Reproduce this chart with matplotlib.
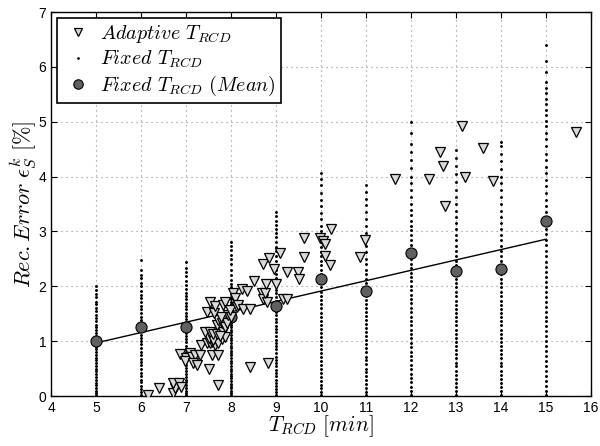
import numpy as np
import matplotlib
matplotlib.use('Agg')
import matplotlib.pyplot as plt

plt.rcParams['mathtext.fontset'] = 'cm'
plt.rcParams['font.family'] = ['Liberation Sans', 'DejaVu Sans']

# --- Adaptive T_RCD (x, y) ---
adaptive_x = [
    6.16, 6.40, 6.72, 6.76, 6.72, 6.84, 6.88, 7.70, 7.50, 8.43, 8.83,
    6.87, 7.01, 6.98, 7.09, 7.13, 7.20, 7.16, 7.24, 7.31, 7.58, 7.70,
    7.33, 7.46, 7.53, 7.57, 7.64, 7.68, 7.72, 7.79, 7.50, 7.61,
    7.42, 7.53, 7.61, 7.68, 7.83, 7.87, 7.76,
    7.68, 7.72, 7.79, 7.87, 7.90, 7.94, 8.00, 7.78,
    7.46, 7.62, 7.53, 7.64, 7.83, 7.87, 7.98, 8.13, 8.05, 8.09, 8.16,
    8.24, 8.36, 8.27, 8.42, 8.50, 8.68, 8.72, 8.79, 8.76,
    8.78, 9.01, 9.16, 9.24,
    8.72, 8.84, 9.08, 8.96, 9.25, 9.48, 9.50, 9.63, 9.62,
    9.97, 10.05, 10.08, 10.09, 10.19, 10.22, 10.87, 10.98,
    11.64, 12.41, 12.64, 12.72, 12.76, 13.13, 13.20, 13.59, 13.83, 15.66,
]
adaptive_y = [
    0.02, 0.14, 0.05, 0.14, 0.23, 0.23, 0.17, 0.21, 0.49, 0.53, 0.61,
    0.77, 0.69, 0.63, 0.79, 0.72, 0.75, 0.60, 0.57, 0.74, 0.75, 0.75,
    0.93, 0.96, 0.96, 0.99, 0.93, 1.00, 0.96, 1.04, 1.06, 1.03,
    1.17, 1.17, 1.14, 1.14, 1.17, 1.08, 1.09,
    1.29, 1.39, 1.33, 1.26, 1.34, 1.48, 1.44, 1.44,
    1.53, 1.52, 1.72, 1.64, 1.66, 1.72, 1.57, 1.63, 1.87, 1.78, 1.66,
    1.96, 1.92, 1.58, 1.58, 2.10, 1.87, 1.76, 1.72, 1.88,
    2.04, 2.04, 1.76, 1.76,
    2.40, 2.52, 2.60, 2.32, 2.27, 2.27, 2.14, 2.54, 2.89,
    2.89, 2.83, 2.77, 2.56, 2.39, 3.05, 2.53, 2.84,
    3.95, 3.95, 4.45, 4.20, 3.46, 4.92, 4.00, 4.53, 3.92, 4.82,
]

# --- Fixed T_RCD samples, one list per T_RCD value ---
fixed_t = [5, 6, 7, 8, 9, 10, 11, 12, 13, 14, 15]
fixed_vals = [
    [0.02, 0.06, 0.10, 0.15, 0.20, 0.24, 0.30, 0.35, 0.41, 0.46, 0.50, 0.55, 0.60,
     0.66, 0.70, 0.74, 0.80, 0.85, 0.90, 0.95, 1.00, 1.04, 1.10, 1.15, 1.20, 1.26,
     1.30, 1.36, 1.42, 1.48, 1.55, 1.60, 1.67, 1.72, 1.80, 1.86, 1.93, 2.00],
    [0.02, 0.07, 0.12, 0.18, 0.25, 0.30, 0.37, 0.42, 0.50, 0.56, 0.62, 0.68, 0.75,
     0.80, 0.88, 0.94, 1.00, 1.06, 1.12, 1.18, 1.25, 1.32, 1.38, 1.45, 1.52, 1.58,
     1.65, 1.72, 1.78, 1.85, 1.92, 2.00, 2.06, 2.15, 2.20, 2.30, 2.48],
    [0.02, 0.05, 0.10, 0.14, 0.20, 0.25, 0.30, 0.34, 0.40, 0.46, 0.52, 0.56, 0.62,
     0.68, 0.74, 0.80, 0.86, 0.92, 0.98, 1.04, 1.10, 1.15, 1.22, 1.28, 1.34, 1.40,
     1.46, 1.52, 1.58, 1.64, 1.70, 1.76, 1.82, 1.88, 1.95, 2.02, 2.10, 2.18, 2.26,
     2.34, 2.45],
    [0.02, 0.06, 0.10, 0.14, 0.18, 0.22, 0.27, 0.32, 0.36, 0.41, 0.46, 0.50, 0.55,
     0.60, 0.64, 0.69, 0.74, 0.78, 0.83, 0.88, 0.92, 0.97, 1.02, 1.06, 1.11, 1.16,
     1.20, 1.25, 1.30, 1.34, 1.39, 1.44, 1.48, 1.53, 1.58, 1.62, 1.67, 1.72, 1.76,
     1.81, 1.86, 1.92, 1.98, 2.05, 2.12, 2.20, 2.30, 2.40, 2.50, 2.58, 2.66, 2.74,
     2.81],
    [0.02, 0.07, 0.12, 0.18, 0.24, 0.30, 0.36, 0.42, 0.48, 0.54, 0.60, 0.66, 0.72,
     0.78, 0.85, 0.91, 0.97, 1.03, 1.10, 1.16, 1.22, 1.28, 1.35, 1.41, 1.48, 1.54,
     1.61, 1.67, 1.74, 1.80, 1.87, 1.94, 2.00, 2.08, 2.15, 2.22, 2.30, 2.38, 2.46,
     2.55, 2.64, 2.72, 2.80, 2.90, 2.98, 3.05, 3.12, 3.20, 3.28, 3.36],
    [0.02, 0.08, 0.14, 0.21, 0.28, 0.35, 0.42, 0.50, 0.57, 0.64, 0.71, 0.78, 0.86,
     0.93, 1.00, 1.08, 1.15, 1.22, 1.30, 1.37, 1.44, 1.52, 1.60, 1.67, 1.75, 1.82,
     1.90, 1.98, 2.06, 2.14, 2.22, 2.30, 2.38, 2.46, 2.55, 2.63, 2.72, 2.80, 2.90,
     3.00, 3.10, 3.22, 3.34, 3.46, 3.58, 3.70, 3.84, 3.95, 4.06],
    [0.02, 0.08, 0.15, 0.22, 0.29, 0.36, 0.43, 0.50, 0.58, 0.65, 0.72, 0.80, 0.87,
     0.94, 1.02, 1.09, 1.16, 1.24, 1.31, 1.38, 1.46, 1.53, 1.60, 1.68, 1.75, 1.82,
     1.90, 1.98, 2.06, 2.14, 2.22, 2.30, 2.40, 2.50, 2.62, 2.74, 2.86, 2.98, 3.10,
     3.22, 3.35, 3.48, 3.60, 3.72, 3.85],
    [0.02, 0.09, 0.17, 0.25, 0.33, 0.41, 0.49, 0.57, 0.65, 0.73, 0.81, 0.89, 0.97,
     1.05, 1.13, 1.21, 1.29, 1.37, 1.45, 1.53, 1.61, 1.69, 1.77, 1.85, 1.93, 2.01,
     2.09, 2.17, 2.25, 2.33, 2.41, 2.50, 2.58, 2.66, 2.75, 2.84, 2.93, 3.02, 3.10,
     3.20, 3.30, 3.40, 3.50, 3.62, 3.75, 3.88, 4.00, 4.15, 4.30, 4.45, 4.60, 4.80,
     5.00],
    [0.02, 0.09, 0.16, 0.24, 0.31, 0.39, 0.46, 0.54, 0.61, 0.69, 0.76, 0.84, 0.91,
     0.99, 1.06, 1.14, 1.21, 1.29, 1.36, 1.44, 1.51, 1.59, 1.66, 1.74, 1.82, 1.90,
     1.98, 2.06, 2.14, 2.22, 2.30, 2.38, 2.47, 2.56, 2.65, 2.74, 2.84, 2.94, 3.04,
     3.15, 3.26, 3.38, 3.50, 3.62, 3.75, 3.90, 4.05, 4.20, 4.34, 4.48],
    [0.02, 0.09, 0.16, 0.24, 0.31, 0.39, 0.46, 0.54, 0.61, 0.69, 0.76, 0.84, 0.91,
     0.99, 1.06, 1.14, 1.21, 1.29, 1.36, 1.44, 1.51, 1.59, 1.66, 1.74, 1.82, 1.90,
     1.98, 2.06, 2.14, 2.22, 2.30, 2.38, 2.47, 2.56, 2.65, 2.74, 2.84, 2.94, 3.04,
     3.15, 3.26, 3.38, 3.50, 3.62, 3.75, 3.88, 4.00, 4.14, 4.28, 4.42, 4.55, 4.64],
    [0.02, 0.10, 0.19, 0.28, 0.37, 0.46, 0.55, 0.64, 0.73, 0.82, 0.91, 1.00, 1.09,
     1.18, 1.27, 1.36, 1.45, 1.54, 1.63, 1.72, 1.81, 1.90, 1.99, 2.08, 2.17, 2.26,
     2.35, 2.45, 2.55, 2.65, 2.75, 2.85, 2.95, 3.05, 3.15, 3.25, 3.36, 3.47, 3.58,
     3.70, 3.82, 3.94, 4.06, 4.18, 4.30, 4.42, 4.55, 4.68, 4.80, 4.92, 5.02, 5.12,
     5.22, 5.32, 5.42, 5.52, 5.62, 5.72, 5.90, 6.10, 6.40],
]

# --- Fixed T_RCD mean values ---
mean_t = [5, 6, 7, 8, 9, 10, 11, 12, 13, 14, 15]
mean_vals = [1.01, 1.25, 1.26, 1.45, 1.65, 2.13, 1.91, 2.60, 2.28, 2.32, 3.19]

fig, ax = plt.subplots(figsize=(6, 4.46), dpi=100)
fig.subplots_adjust(left=0.085, right=0.985, top=0.973, bottom=0.112)

# fixed samples
fx = np.concatenate([[t] * len(v) for t, v in zip(fixed_t, fixed_vals)])
fy = np.concatenate(fixed_vals)

# linear fit on the means
coef = np.polyfit(mean_t, mean_vals, 1)
line_x = np.array([min(mean_t), max(mean_t)])

ax.plot(fx, fy, '.', color='black', markersize=2.2, label=r'$Fixed\ T_{RCD}$', zorder=2)
ax.plot(line_x, np.polyval(coef, line_x), '-', color='black', linewidth=1, zorder=3)
ax.plot(mean_t, mean_vals, 'o', markerfacecolor='#606060', markeredgecolor='black',
        markeredgewidth=0.8, markersize=8, label=r'$Fixed\ T_{RCD}\ (Mean)$', zorder=4)
ax.plot(adaptive_x, adaptive_y, 'v', markerfacecolor='#d9d9d9', markeredgecolor='black',
        markeredgewidth=0.9, markersize=7, linestyle='none',
        label=r'$Adaptive\ T_{RCD}$', zorder=5)

# --- Formatting ---
ax.set_xlim(4, 16)
ax.set_ylim(0, 7)
ax.set_xticks(range(4, 17))
ax.set_yticks(range(0, 8))
ax.grid(True, linestyle=(0, (1, 3.5)), color='#8c8c8c', linewidth=0.8)
ax.set_axisbelow(True)
ax.tick_params(direction='in', top=True, right=True, labelsize=10, length=4)
for s in ax.spines.values():
    s.set_linewidth(1.0)

ax.set_xlabel(r'$T_{RCD}\ [min]$', fontsize=15.5, labelpad=-1)
ax.set_ylabel(r'$Rec{.}Error\ \epsilon_S^k\ [\%]$', fontsize=16, labelpad=0)

handles, labels = ax.get_legend_handles_labels()
order = [2, 0, 1]
leg = ax.legend([handles[i] for i in order], [labels[i] for i in order],
                loc='upper left', fontsize=14.5, fancybox=False, framealpha=1,
                edgecolor='black', borderaxespad=0.3, borderpad=0.25,
                handletextpad=0.3, handlelength=1.6, labelspacing=0.18,
                markerscale=0.85, numpoints=1)
leg.get_frame().set_linewidth(1.2)

plt.savefig('out.png', dpi=100)
